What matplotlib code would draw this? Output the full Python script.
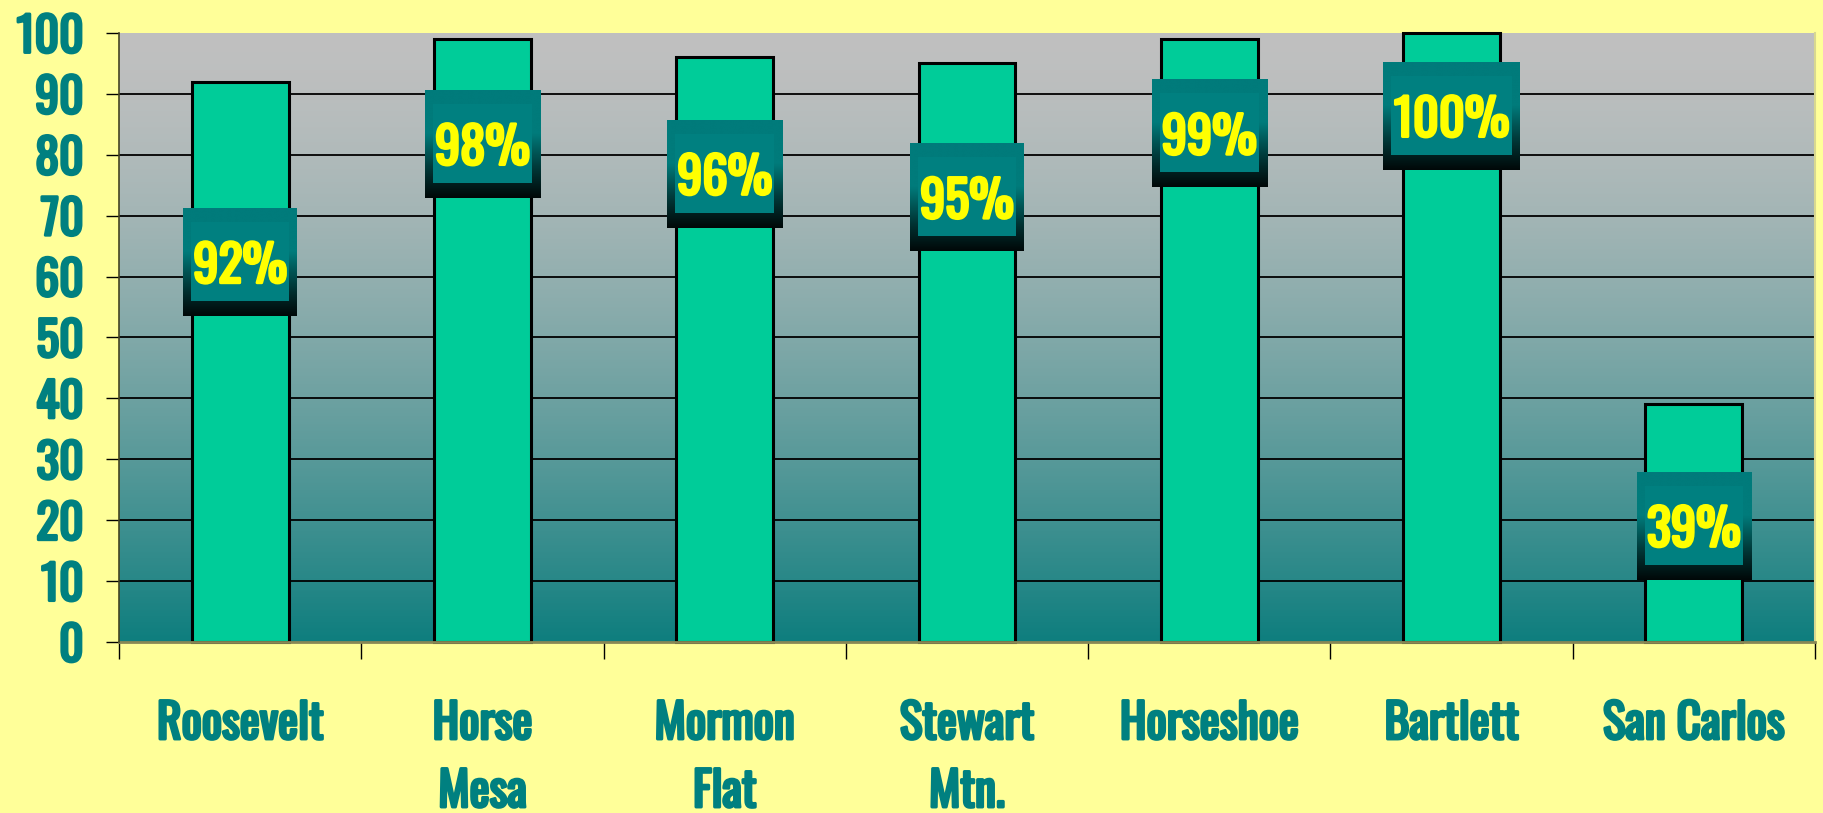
import matplotlib
matplotlib.use("Agg")
import matplotlib.pyplot as plt
import numpy as np
from matplotlib.colors import LinearSegmentedColormap
from matplotlib.patches import Rectangle
from matplotlib.font_manager import FontProperties
from matplotlib.textpath import TextPath
from matplotlib.transforms import blended_transform_factory
import matplotlib.patheffects as pe

# ---- data ----
categories = ["Roosevelt", "Horse\nMesa", "Mormon\nFlat", "Stewart\nMtn.",
              "Horseshoe", "Bartlett", "San Carlos"]
values = [92, 99, 96, 95, 99, 100, 39]
value_labels = ["92%", "98%", "96%", "95%", "99%", "100%", "39%"]
label_centers = [62.4, 81.8, 76.9, 73.0, 83.5, 86.4, 19.1]
yticks = [0, 10, 20, 30, 40, 50, 60, 70, 80, 90, 100]

# ---- style ----
BG = "#FFFF99"
TEAL = "#008080"
BAR = "#00CC99"
YEL = "#FFFF00"
FAMILY = ["Oswald", "DejaVu Sans"]
FP = FontProperties(family=FAMILY, weight="bold")
BOLD_TEAL = [pe.withStroke(linewidth=2.1, foreground=TEAL)]
BOLD_YEL = [pe.withStroke(linewidth=2.1, foreground=YEL)]


def size_for_height(px, text="H"):
    h = TextPath((0, 0), text, size=10, prop=FP).get_extents().height
    return 10 * px / (h * 100 / 72)


FS_AXIS = size_for_height(38.5, "H")
FS_LAB = size_for_height(41.5, "0")

W, H = 1824, 813
fig = plt.figure(figsize=(W / 100, H / 100), dpi=100, facecolor=BG)
ax = fig.add_axes([119 / W, 171 / H, 1696 / W, 609 / H])
ax.set_facecolor("none")

n = len(categories)
x = np.arange(n)
ax.set_xlim(-0.5, n - 0.5)
ax.set_ylim(0, 100)

# background gradient
t = np.linspace(0, 1, 256)[:, None]
g = np.array([192, 192, 192]) / 255
tl = np.array([14, 126, 126]) / 255
grad = g + (tl - g) * (t[..., None] ** 1.5)
grad = np.repeat(grad, 2, axis=1)
ax.imshow(grad, extent=(-0.5, n - 0.5, 0, 100), aspect="auto", zorder=0,
          interpolation="bilinear")

for yv in yticks[1:-1]:
    ax.axhline(yv, color="black", lw=1.3, zorder=1)

bars = ax.bar(x, values, width=0.4, color=BAR, edgecolor="black",
              linewidth=2.2, zorder=2)
for b in bars:
    b.set_clip_on(False)

ax.spines["top"].set_visible(False)
ax.spines["right"].set_color("#D8D890")
ax.spines["right"].set_linewidth(1.5)
ax.spines["left"].set_color("#444422")
ax.spines["bottom"].set_color("#888855")
ax.spines["left"].set_linewidth(1.2)
ax.spines["bottom"].set_linewidth(2)
ax.spines["left"].set_zorder(3)

ax.set_yticks(yticks)
ax.set_yticklabels([str(v) for v in yticks], color=TEAL,
                   fontproperties=FP, fontsize=FS_AXIS,
                   va="center_baseline")
for lbl in ax.get_yticklabels():
    lbl.set_path_effects(BOLD_TEAL)
ax.tick_params(axis="y", direction="out", length=9.5, width=1, color="black",
               pad=16)

ax.set_xticks(np.arange(-0.5, n, 1.0))
ax.set_xticklabels([])
ax.tick_params(axis="x", which="major", direction="out", length=12, width=1,
               color="black")

# category labels, one line at a time (baselines in px below the axes bottom)
trans = blended_transform_factory(ax.transData, ax.transAxes)
axes_h_px = 609
base_offsets = [97, 165]
for xi, cat in zip(x, categories):
    for k, line in enumerate(cat.split("\n")):
        ax.text(xi, -base_offsets[k] / axes_h_px, line, transform=trans,
                ha="center", va="baseline", color=TEAL, fontproperties=FP,
                fontsize=FS_AXIS, clip_on=False, path_effects=BOLD_TEAL)

# value labels in boxes
box_h = 108
digit_h = TextPath((0, 0), "0", size=FS_LAB, prop=FP).get_extents().height * 100 / 72
fig.canvas.draw()
inv = ax.transData.inverted()
cmap = LinearSegmentedColormap.from_list(
    "boxgrad", [(0, "#007B7B"), (0.4, "#007B7B"), (0.75, "#003333"),
                (1.0, "#000808")])
for xi, lab, yc in zip(x, value_labels, label_centers):
    cx, cy = ax.transData.transform((xi, yc))
    tw = TextPath((0, 0), lab, size=FS_LAB, prop=FP).get_extents().width * 100 / 72
    bw = tw + 24
    tx_d, ty_d = inv.transform((cx, cy - digit_h / 2))
    ax.text(tx_d, ty_d, lab, ha="center", va="baseline", color=YEL,
            fontproperties=FP, fontsize=FS_LAB, zorder=6,
            path_effects=BOLD_YEL)
    x0, y0 = inv.transform((cx - bw / 2, cy - box_h / 2))
    x1, y1 = inv.transform((cx + bw / 2, cy + box_h / 2))
    gimg = np.linspace(0, 1, 128)[:, None]
    ax.imshow(gimg, cmap=cmap, extent=(x0, x1, y0, y1), aspect="auto",
              zorder=4, interpolation="bilinear")
    ix0, iy0 = inv.transform((cx - bw / 2 + 8, cy - box_h / 2 + 15))
    ix1, iy1 = inv.transform((cx + bw / 2 - 8, cy + box_h / 2 - 14))
    ax.add_patch(Rectangle((ix0, iy0), ix1 - ix0, iy1 - iy0, facecolor=TEAL,
                           edgecolor="none", zorder=5))

ax.set_xlim(-0.5, n - 0.5)
ax.set_ylim(0, 100)

fig.savefig("out.png", dpi=100, facecolor=BG)
